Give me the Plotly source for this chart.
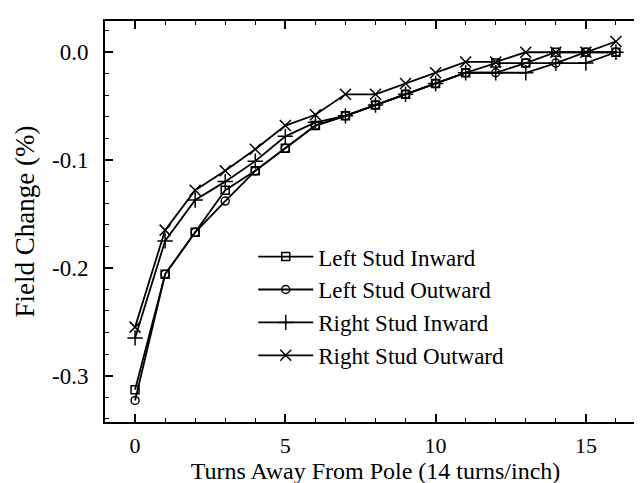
import plotly.graph_objects as go

turns = list(range(17))
left_in = [-0.313, -0.206, -0.167, -0.128, -0.110, -0.089, -0.068, -0.059, -0.049, -0.039, -0.029, -0.019, -0.010, -0.010, 0.000, 0.000, 0.000]
left_out = [-0.323, -0.206, -0.167, -0.138, -0.110, -0.089, -0.068, -0.059, -0.049, -0.039, -0.029, -0.019, -0.019, -0.010, -0.010, 0.000, 0.000]
right_in = [-0.265, -0.175, -0.137, -0.120, -0.101, -0.078, -0.065, -0.059, -0.049, -0.039, -0.029, -0.019, -0.019, -0.019, -0.010, -0.010, 0.000]
right_out = [-0.255, -0.165, -0.128, -0.110, -0.090, -0.068, -0.058, -0.039, -0.039, -0.029, -0.019, -0.009, -0.009, 0.000, 0.000, 0.000, 0.010]

series_names = ["Left Stud Inward", "Left Stud Outward", "Right Stud Inward", "Right Stud Outward"]
x_tickvals = [0, 5, 10, 15]
x_ticktext = ["0", "5", "10", "15"]
y_tickvals = [0.0, -0.1, -0.2, -0.3]
y_ticktext = ["0.0", "-0.1", "-0.2", "-0.3"]

FONT = "Liberation Serif"
symbols = ["square-open", "circle-open", "cross-thin-open", "x-thin-open"]
sizes = [8, 8, 11, 11]

fig = go.Figure()
for name, ys, sym, sz in zip(series_names, [left_in, left_out, right_in, right_out], symbols, sizes):
    fig.add_trace(go.Scatter(
        x=turns, y=ys, name=name, mode="lines+markers",
        line=dict(color="black", width=1.8),
        marker=dict(symbol=sym, size=sz, color="black", line=dict(color="black", width=1.5)),
    ))

axis_common = dict(
    showline=True, linecolor="black", linewidth=1.8, mirror="ticks",
    ticks="inside", ticklen=8, tickwidth=1.5, tickcolor="black",
    showgrid=False, zeroline=False,
)

fig.update_xaxes(
    range=[-1, 17], tickvals=x_tickvals, ticktext=x_ticktext,
    ticklabelstandoff=3,
    tickfont=dict(family=FONT, size=22, color="black"),
    minor=dict(dtick=1, ticks="inside", ticklen=4, tickcolor="black", tickwidth=1.2),
    title=dict(text="Turns Away From Pole (14 turns/inch)", font=dict(family=FONT, size=24, color="black"), standoff=0),
    **axis_common,
)
fig.update_yaxes(
    range=[-0.343, 0.029], tickvals=y_tickvals, ticktext=y_ticktext,
    ticklabelstandoff=10,
    tickfont=dict(family=FONT, size=23, color="black"),
    minor=dict(dtick=0.02, tick0=0, ticks="inside", ticklen=4, tickcolor="black", tickwidth=1.2),
    title=dict(text="Field Change (%)", font=dict(family=FONT, size=27, color="black"), standoff=10),
    **axis_common,
)

fig.update_layout(
    width=642, height=483,
    margin=dict(l=97, r=2, t=13, b=69),
    plot_bgcolor="white", paper_bgcolor="white",
    showlegend=True,
    legend=dict(
        x=0.274, y=0.466, xanchor="left", yanchor="top",
        font=dict(family=FONT, size=23, color="black"),
        bgcolor="rgba(0,0,0,0)", tracegroupgap=0, itemwidth=55,
    ),
)

fig.write_html("out.html")
